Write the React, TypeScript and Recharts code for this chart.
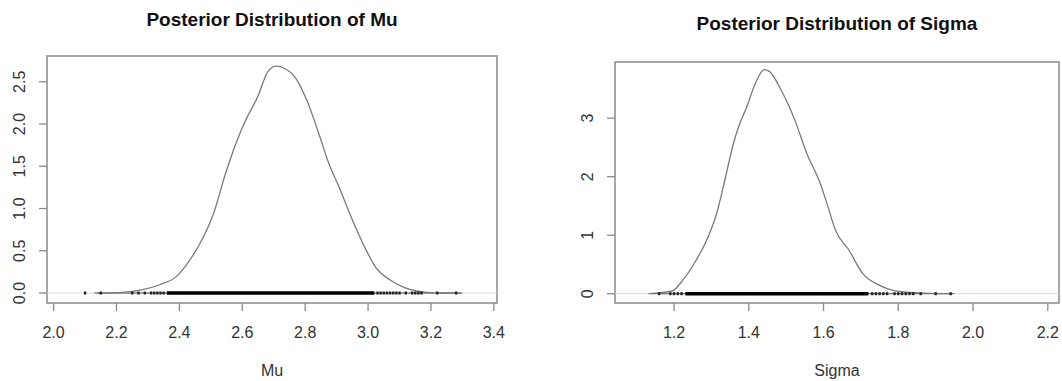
import React from 'react';
import {
  ComposedChart,
  Line,
  Scatter,
  XAxis,
  YAxis,
  ReferenceArea,
  ReferenceLine,
} from 'recharts';

// density estimates
const MU_X = [2.138, 2.218, 2.283, 2.337, 2.391, 2.434, 2.477, 2.509, 2.547, 2.584, 2.611, 2.649, 2.681, 2.708, 2.735, 2.767, 2.805, 2.843, 2.875, 2.907, 2.95, 2.988, 3.026, 3.069, 3.112, 3.155, 3.208, 3.294];
const MU_DENSITY = [0, 0.008, 0.039, 0.098, 0.197, 0.394, 0.669, 0.945, 1.417, 1.811, 2.047, 2.323, 2.618, 2.685, 2.657, 2.559, 2.283, 1.89, 1.535, 1.26, 0.866, 0.551, 0.295, 0.157, 0.071, 0.024, 0.003, 0];

const SIGMA_X = [1.132, 1.195, 1.223, 1.259, 1.295, 1.314, 1.336, 1.359, 1.373, 1.395, 1.418, 1.441, 1.455, 1.486, 1.523, 1.555, 1.591, 1.609, 1.632, 1.668, 1.705, 1.75, 1.786, 1.832, 1.886, 1.941];
const SIGMA_DENSITY = [0, 0.046, 0.229, 0.571, 1.029, 1.371, 1.943, 2.571, 2.857, 3.2, 3.6, 3.829, 3.8, 3.486, 2.971, 2.4, 1.886, 1.543, 1.086, 0.743, 0.343, 0.143, 0.057, 0.023, 0.005, 0];

// rug: full extent, dense band, and the scattered marks outside it
const MU_RUG_RANGE = [2.13, 3.3];
const MU_RUG_BAND = [2.36, 3.02];
const MU_RUG_SPARSE = [2.1, 2.15, 2.25, 2.27, 2.29, 2.31, 2.32, 2.33, 2.34, 2.35, 3.03, 3.04, 3.05, 3.06, 3.07, 3.08, 3.09, 3.1, 3.12, 3.14, 3.15, 3.16, 3.17, 3.22, 3.28];

const SIGMA_RUG_RANGE = [1.14, 1.95];
const SIGMA_RUG_BAND = [1.23, 1.72];
const SIGMA_RUG_SPARSE = [1.16, 1.19, 1.2, 1.21, 1.22, 1.73, 1.74, 1.75, 1.76, 1.77, 1.79, 1.8, 1.81, 1.82, 1.83, 1.84, 1.86, 1.9, 1.94];

const MU_X_TICKS = [2.0, 2.2, 2.4, 2.6, 2.8, 3.0, 3.2, 3.4];
const MU_Y_TICKS = [0, 0.5, 1.0, 1.5, 2.0, 2.5];
const SIGMA_X_TICKS = [1.2, 1.4, 1.6, 1.8, 2.0, 2.2];
const SIGMA_Y_TICKS = [0, 1, 2, 3];

const FONT = '"Liberation Sans", Arial, Helvetica, sans-serif';
const AXIS_GREY = '#8a8a8a';

interface PanelProps {
  xs: number[];
  ys: number[];
  rugRange: number[];
  rugBand: number[];
  rugSparse: number[];
  xTicks: number[];
  yTicks: number[];
  xDigits: number;
  yDigits: number;
  xDomain: [number, number];
  yDomain: [number, number];
  margin: { top: number; right: number; bottom: number; left: number };
}

const Panel: React.FC<PanelProps> = (p) => {
  const curve = p.xs.map((x, i) => ({ x, y: p.ys[i] }));
  const range = p.rugRange.map((x) => ({ x, y: 0 }));
  const band = p.rugBand.map((x) => ({ x, y: 0 }));
  const sparse = p.rugSparse.map((x) => ({ x, y: 0 }));

  const xTick = (t: any) => (
    <text x={t.x} y={t.y} dy={25} textAnchor="middle" fill="#333" fontSize={16} fontFamily={FONT}>
      {Number(t.payload.value).toFixed(p.xDigits)}
    </text>
  );
  const yTick = (t: any) => {
    const bx = t.x - 11.5;
    return (
      <text
        x={bx}
        y={t.y}
        textAnchor="middle"
        fill="#333"
        fontSize={16}
        fontFamily={FONT}
        transform={`rotate(-90, ${bx}, ${t.y})`}
      >
        {Number(t.payload.value).toFixed(p.yDigits)}
      </text>
    );
  };

  return (
    <ComposedChart width={531} height={381} margin={p.margin}>
      <XAxis
        type="number"
        dataKey="x"
        domain={p.xDomain}
        ticks={p.xTicks}
        allowDataOverflow
        height={30}
        axisLine={false}
        tickSize={8}
        tickLine={{ stroke: AXIS_GREY, strokeWidth: 1.3 }}
        tick={xTick}
        interval={0}
      />
      <YAxis
        type="number"
        dataKey="y"
        domain={p.yDomain}
        ticks={p.yTicks}
        allowDataOverflow
        width={40}
        axisLine={false}
        tickSize={8}
        tickLine={{ stroke: AXIS_GREY, strokeWidth: 1.3 }}
        tick={yTick}
        interval={0}
      />
      <ReferenceLine y={0} stroke="#d9d9d9" strokeWidth={1} />
      <Line data={range} dataKey="y" stroke="#555" strokeWidth={1} dot={false} isAnimationActive={false} />
      <Line data={band} dataKey="y" stroke="#000" strokeWidth={3.5} dot={false} isAnimationActive={false} />
      <Scatter
        data={sparse}
        dataKey="y"
        isAnimationActive={false}
        shape={(s: any) => (
          <rect x={s.cx - 1.2} y={s.cy - 1.5} width={2.4} height={3} fill="#222" />
        )}
      />
      <Line
        data={curve}
        dataKey="y"
        type="monotone"
        stroke="#7a7a7a"
        strokeWidth={1.3}
        dot={false}
        isAnimationActive={false}
      />
      <ReferenceArea
        x1={p.xDomain[0]}
        x2={p.xDomain[1]}
        y1={p.yDomain[0]}
        y2={p.yDomain[1]}
        fill="#fff"
        fillOpacity={0}
        stroke={AXIS_GREY}
        strokeWidth={1.5}
        ifOverflow="visible"
      />
    </ComposedChart>
  );
};

const textStyle = (left: number, top: number, width: number, size: number, bold: boolean): React.CSSProperties => ({
  position: 'absolute',
  left,
  top,
  width,
  textAlign: 'center',
  fontFamily: FONT,
  fontSize: size,
  lineHeight: '24px',
  fontWeight: bold ? 'bold' : 'normal',
  color: bold ? '#111' : '#333',
  whiteSpace: 'nowrap',
});

export default function App() {
  return (
    <div
      style={{
        position: 'absolute',
        left: 0,
        top: 0,
        width: 1062,
        height: 381,
        background: '#fff',
        overflow: 'hidden',
      }}
    >
      <div style={{ position: 'absolute', left: 0, top: 0 }}>
        <Panel
          xs={MU_X}
          ys={MU_DENSITY}
          rugRange={MU_RUG_RANGE}
          rugBand={MU_RUG_BAND}
          rugSparse={MU_RUG_SPARSE}
          xTicks={MU_X_TICKS}
          yTicks={MU_Y_TICKS}
          xDigits={1}
          yDigits={1}
          xDomain={[1.979, 3.41]}
          yDomain={[-0.118, 2.805]}
          margin={{ top: 56, right: 34, bottom: 48, left: 7 }}
        />
      </div>
      <div style={{ position: 'absolute', left: 531, top: 0 }}>
        <Panel
          xs={SIGMA_X}
          ys={SIGMA_DENSITY}
          rugRange={SIGMA_RUG_RANGE}
          rugBand={SIGMA_RUG_BAND}
          rugSparse={SIGMA_RUG_SPARSE}
          xTicks={SIGMA_X_TICKS}
          yTicks={SIGMA_Y_TICKS}
          xDigits={1}
          yDigits={0}
          xDomain={[1.042, 2.23]}
          yDomain={[-0.159, 3.96]}
          margin={{ top: 62, right: 3, bottom: 48, left: 44 }}
        />
      </div>
      <div style={textStyle(72, 8, 400, 19, true)}>Posterior Distribution of Mu</div>
      <div style={textStyle(637, 12, 400, 19, true)}>Posterior Distribution of Sigma</div>
      <div style={textStyle(172, 359, 200, 16, false)}>Mu</div>
      <div style={textStyle(737, 359, 200, 16, false)}>Sigma</div>
    </div>
  );
}
